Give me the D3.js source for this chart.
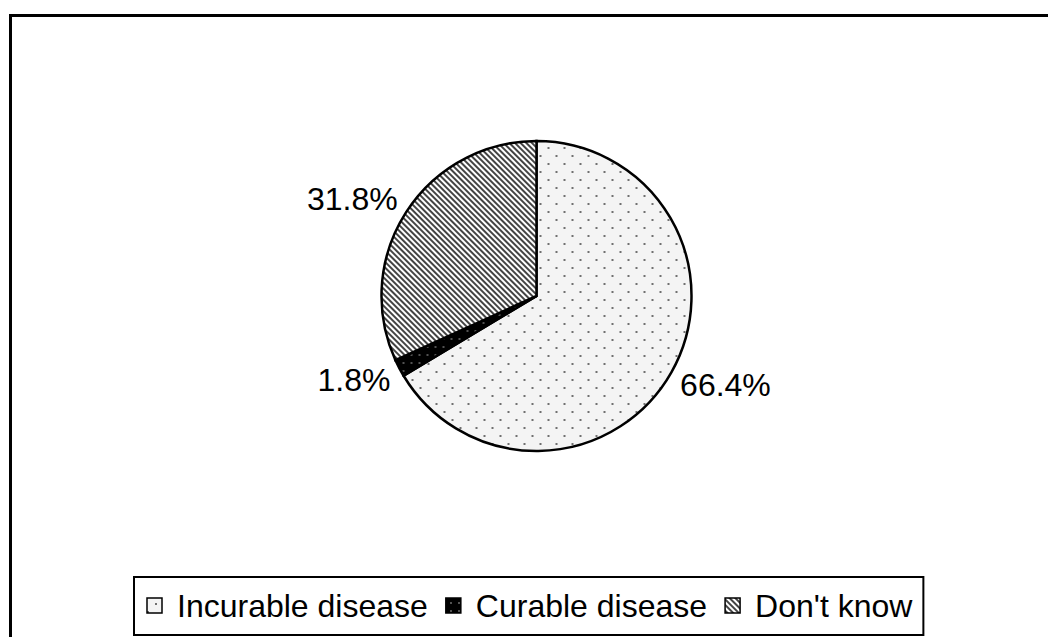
<!DOCTYPE html>
<html><head><meta charset="utf-8">
<script src="https://cdn.jsdelivr.net/npm/d3@7"></script>
<style>html,body{margin:0;padding:0;background:#fff;overflow:hidden}svg{display:block}text{font-family:"Liberation Sans",Arial,sans-serif}</style>
</head><body><svg id="c" width="1048" height="637"></svg>
<script>
const categories = ["Incurable disease", "Curable disease", "Don't know"];
const values = [66.4, 1.8, 31.8];
const labels = ["66.4%", "1.8%", "31.8%"];
const patternIds = ["dots", "blackdots", "stripes"];

const svg = d3.select("#c");
const defs = svg.append("defs");

// light dotted pattern
const p1 = defs.append("pattern").attr("id","dots").attr("patternUnits","userSpaceOnUse").attr("width",16).attr("height",16);
p1.append("rect").attr("width",16).attr("height",16).attr("fill","#f4f4f4");
p1.append("circle").attr("cx",4).attr("cy",4).attr("r",1).attr("fill","#444");
p1.append("circle").attr("cx",12).attr("cy",12).attr("r",1).attr("fill","#444");
// black with white dots
const p2 = defs.append("pattern").attr("id","blackdots").attr("patternUnits","userSpaceOnUse").attr("width",8).attr("height",8);
p2.append("rect").attr("width",8).attr("height",8).attr("fill","#000");
p2.append("circle").attr("cx",3).attr("cy",3).attr("r",0.8).attr("fill","#bbb");
// diagonal stripes
const p3 = defs.append("pattern").attr("id","stripes").attr("patternUnits","userSpaceOnUse").attr("width",4).attr("height",4).attr("patternTransform","rotate(-45)");
p3.append("rect").attr("width",4).attr("height",4).attr("fill","#fff");
p3.append("rect").attr("width",2).attr("height",4).attr("fill","#444");

// outer frame (extends beyond viewport on right/bottom)
svg.append("rect").attr("x",10.5).attr("y",15.5).attr("width",1100).attr("height",700)
  .attr("fill","none").attr("stroke","#000").attr("stroke-width",3);

const cx = 536.5, cy = 296, r = 155;
const g = svg.append("g").attr("transform",`translate(${cx},${cy})`);
const pie = d3.pie().sort(null).value(d => d)(values);
const arc = d3.arc().innerRadius(0).outerRadius(r);
g.selectAll("path.slice").data(pie).enter().append("path")
  .attr("class","slice")
  .attr("d", arc)
  .attr("fill", (d,i) => `url(#${patternIds[i]})`)
  .attr("stroke","#000").attr("stroke-width",2.5).attr("stroke-linejoin","miter");

// labels placed outside the pie, box adjacent to the point at radius r+10
const labR = r + 10, labH = 30;
g.selectAll("text.lbl").data(pie).enter().append("text")
  .attr("class","lbl")
  .attr("text-anchor","middle").attr("dy","0.35em")
  .attr("font-size",32).attr("fill","#000")
  .text((d,i) => labels[i])
  .attr("transform", function(d) {
    const a = (d.startAngle + d.endAngle) / 2;
    const w = this.getComputedTextLength();
    const px = Math.sin(a) * labR, py = -Math.cos(a) * labR;
    const x = px + Math.sign(Math.sin(a)) * w / 2;
    const y = py - Math.cos(a) * labH / 2;
    return `translate(${x},${y})`;
  });

// legend
const leg = svg.append("g");
const legBox = leg.append("rect").attr("fill","#fff").attr("stroke","#000").attr("stroke-width",2);
let x = 147;
const symY = 598, sym = 15, baseY = 617;
categories.forEach((c,i) => {
  leg.append("rect").attr("x",x).attr("y",symY).attr("width",sym).attr("height",sym)
    .attr("fill",`url(#${patternIds[i]})`).attr("stroke","#000").attr("stroke-width",1.5);
  const t = leg.append("text").attr("x",x+30).attr("y",baseY).attr("font-size",32).text(c);
  x = x + 30 + t.node().getComputedTextLength() + 18;
});
legBox.attr("x",134).attr("y",577).attr("width",(x-18+11)-134).attr("height",58);
</script></body></html>
